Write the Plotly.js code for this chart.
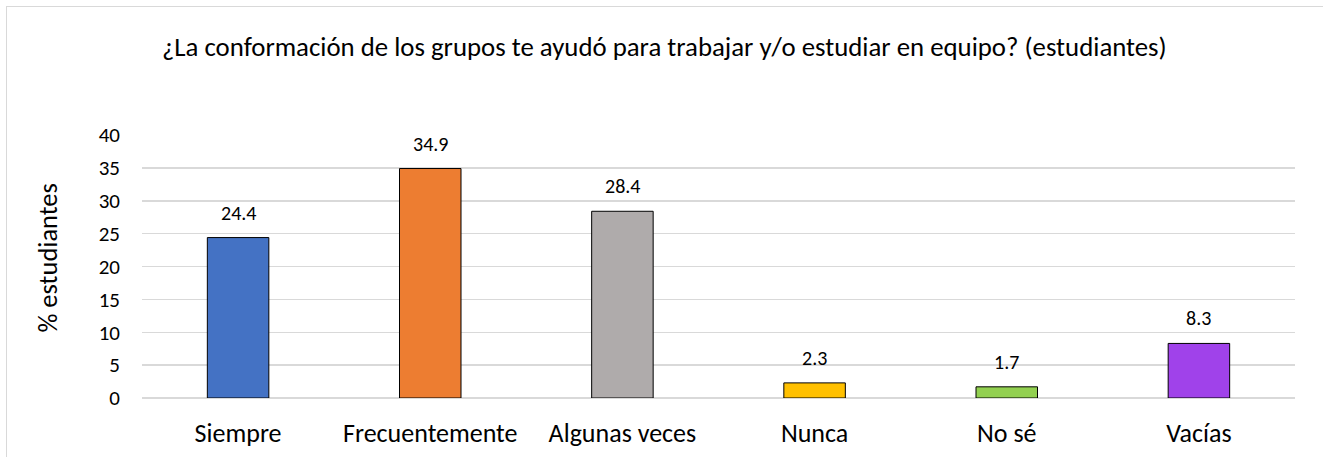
<!DOCTYPE html>
<html>
<head>
<meta charset="utf-8">
<script src="https://cdn.plot.ly/plotly-3.0.1.min.js"></script>
<style>
html,body{margin:0;padding:0;background:#fff;}
#wrap{position:relative;width:1323px;height:457px;overflow:hidden;}
#chart{width:1323px;height:457px;}
#frame{position:absolute;left:6px;top:6px;width:1330px;height:470px;border:1px solid #d9d9d9;pointer-events:none;}
</style>
</head>
<body>
<div id="wrap"><div id="chart"></div><div id="frame"></div></div>
<script>
const categories = ["Siempre", "Frecuentemente", "Algunas veces", "Nunca", "No sé", "Vacías"];
const values = [24.4, 34.9, 28.4, 2.3, 1.7, 8.3];
const barColors = ["#4472C4", "#ED7D31", "#AFABAB", "#FFC000", "#92D050", "#A042EA"];
const yTicks = [0, 5, 10, 15, 20, 25, 30, 35, 40];
const titleText = "¿La conformación de los grupos te ayudó para trabajar y/o estudiar en equipo? (estudiantes)";
const yTitle = "% estudiantes";

const font = "Carlito, Calibri, Lato, 'Liberation Sans', Arial, sans-serif";

const trace = {
  type: "bar",
  x: categories,
  y: values,
  marker: {color: barColors, line: {color: "#000000", width: 1}},
  hoverinfo: "x+y"
};

const annotations = categories.map((c, i) => ({
  x: c, y: values[i], xref: "x", yref: "y",
  text: values[i].toFixed(1), showarrow: false,
  yshift: 25, font: {family: font, size: 20, color: "#000"}
}));
annotations.push({
  text: yTitle, xref: "paper", yref: "paper", x: -0.0815, y: 0.534,
  xanchor: "center", yanchor: "middle", textangle: -90, showarrow: false,
  font: {family: font, size: 26.5, color: "#000"}
});

const layout = {
  width: 1323, height: 457,
  margin: {l: 142, r: 28, t: 135, b: 59},
  paper_bgcolor: "#fff", plot_bgcolor: "#fff",
  showlegend: false,
  bargap: 0.68,
  title: {text: titleText, x: 0.453, xref: "paper", xanchor: "center", y: 0.897, yanchor: "middle",
          font: {family: font, size: 26.8, color: "#000"}},
  xaxis: {tickfont: {family: font, size: 26, color: "#000"}, showline: false,
          ticks: "", ticklabelstandoff: 17, automargin: false},
  yaxis: {range: [0, 40], tickvals: yTicks, showgrid: true, gridcolor: "#d9d9d9", gridwidth: 1.5,
          zeroline: true, zerolinecolor: "#d9d9d9", zerolinewidth: 1.5,
          tickfont: {family: font, size: 21, color: "#000"}, ticks: "", ticklabelstandoff: 21,
          automargin: false},
  annotations: annotations
};

Plotly.newPlot("chart", [trace], layout, {displayModeBar: false, staticPlot: true});
</script>
</body>
</html>
